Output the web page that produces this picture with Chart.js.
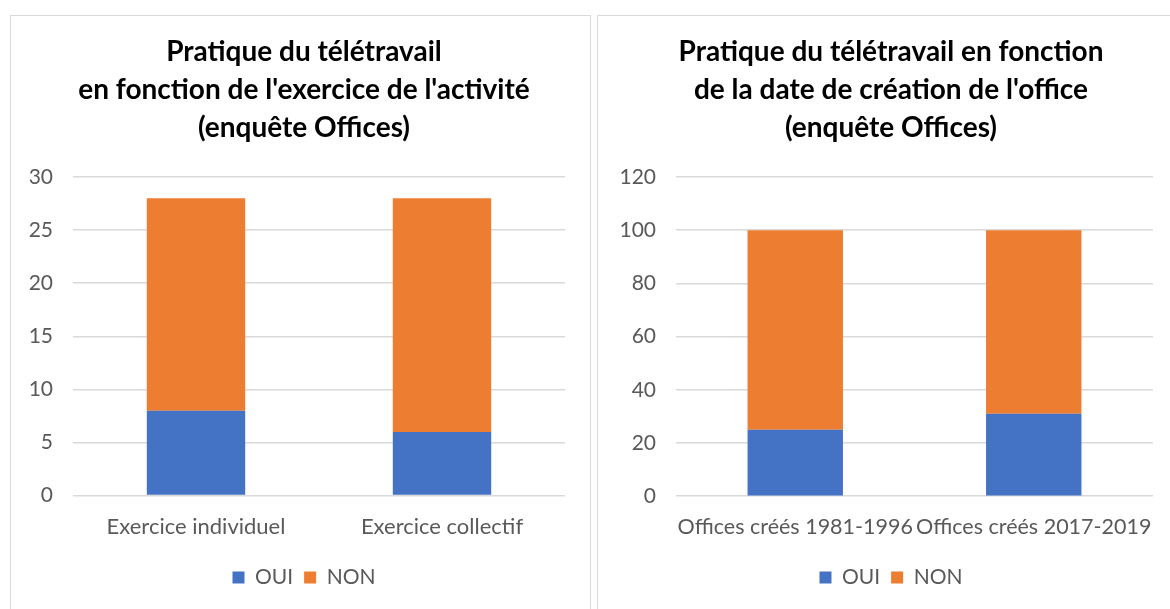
<!DOCTYPE html>
<html>
<head>
<meta charset="utf-8">
<script src="https://cdn.jsdelivr.net/npm/chart.js@4.4.1/dist/chart.umd.min.js"></script>
<style>
  html, body { margin: 0; padding: 0; background: #fff; overflow: hidden; }
  body { width: 1170px; height: 609px; position: relative; }
  .panel { position: absolute; top: 15px; height: 600px; border: 1px solid #d9d9d9; }
  #panelLeft { left: 10px; width: 579px; }
  #panelRight { left: 597px; width: 586px; }
  canvas { display: block; }
</style>
</head>
<body>
<div class="panel" id="panelLeft"><canvas id="chartLeft" width="586" height="600"></canvas></div>
<div class="panel" id="panelRight"><canvas id="chartRight" width="586" height="600"></canvas></div>
<script>
// Left chart data
const leftTitle = ["Pratique du télétravail", "en fonction de l'exercice de l'activité", "(enquête Offices)"]
const leftCategories = ["Exercice individuel", "Exercice collectif"]
const leftOui = [8, 6]
const leftNon = [20, 22]

// Right chart data
const rightTitle = ["Pratique du télétravail en fonction", "de la date de création de l'office", "(enquête Offices)"]
const rightCategories = ["Offices créés 1981-1996", "Offices créés 2017-2019"]
const rightOui = [25, 31]
const rightNon = [75, 69]

const seriesLabels = ["OUI", "NON"]
const blue = "#4472c4"
const orange = "#ed7d31"
const grey = "#595959"
const fontFamily = "Lato, 'Open Sans', sans-serif"

function makeChart(id, title, categories, oui, non, yMax, yStep, axisWidth, rightGap, xFont) {
  const ctx = document.getElementById(id).getContext("2d")
  return new Chart(ctx, {
    type: "bar",
    data: {
      labels: categories,
      datasets: [
        { label: seriesLabels[0], data: oui, backgroundColor: blue, barPercentage: 0.4, categoryPercentage: 1 },
        { label: seriesLabels[1], data: non, backgroundColor: orange, barPercentage: 0.4, categoryPercentage: 1 },
      ],
    },
    options: {
      responsive: false,
      animation: false,
      layout: { padding: { left: 0, right: 0, top: 0, bottom: 18 } },
      plugins: {
        title: {
          display: true,
          text: title,
          color: "#000",
          font: { family: fontFamily, size: 28, weight: "bold", lineHeight: 38 / 28 },
          padding: { top: 17, bottom: 30 },
        },
        legend: {
          position: "bottom",
          labels: {
            color: grey,
            font: { family: fontFamily, size: 21 },
            boxWidth: 12,
            boxHeight: 12,
            padding: 11,
          },
        },
        tooltip: { enabled: false },
      },
      scales: {
        x: {
          stacked: true,
          grid: { display: false },
          border: { display: false },
          ticks: { color: grey, font: { family: fontFamily, size: xFont }, padding: 10, maxRotation: 0, autoSkip: false },
          afterFit: (scale) => { scale.height += 6 },
        },
        y: {
          stacked: true,
          min: 0,
          max: yMax,
          grid: { color: "#d9d9d9", lineWidth: 1.5, drawTicks: false },
          border: { display: false },
          ticks: { stepSize: yStep, color: grey, font: { family: fontFamily, size: 21 }, padding: 20 },
          afterFit: (scale) => { scale.width = axisWidth },
        },
        // empty right axis, only reserves the white margin on the right
        gap: {
          position: "right",
          grid: { display: false },
          border: { display: false },
          ticks: { display: false },
          afterFit: (scale) => { scale.width = rightGap },
        },
      },
    },
  })
}

makeChart("chartLeft", leftTitle, leftCategories, leftOui, leftNon, 30, 5, 62, 32, 22)
makeChart("chartRight", rightTitle, rightCategories, rightOui, rightNon, 120, 20, 78, 31, 21.5)
</script>
</body>
</html>
